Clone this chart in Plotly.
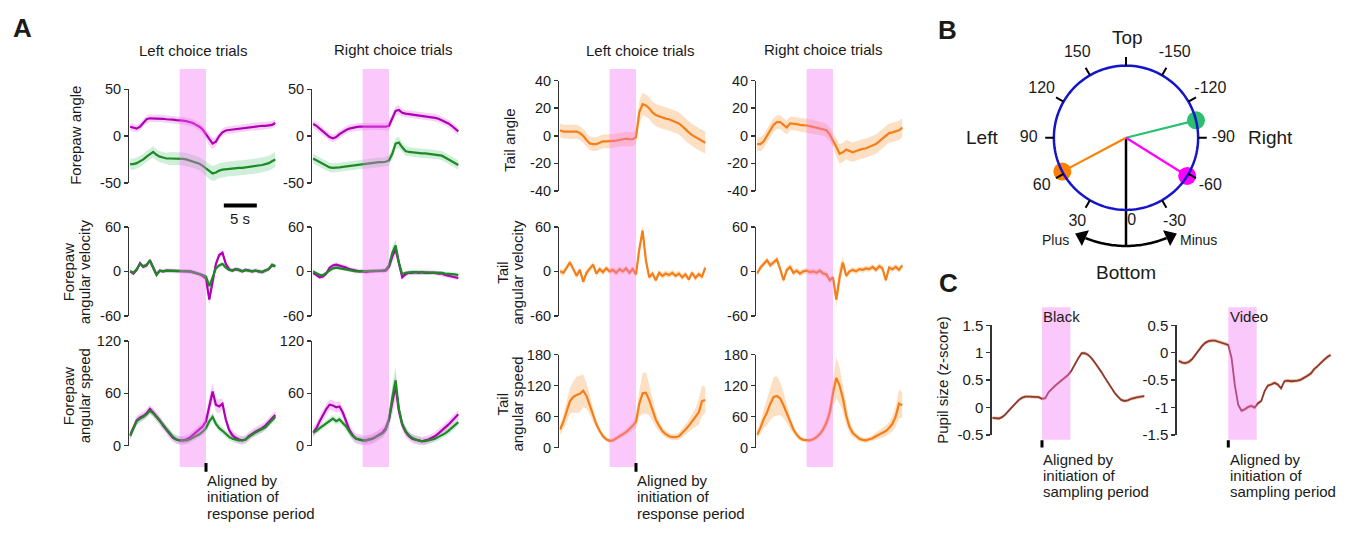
import plotly.graph_objects as go
import numpy as np

W, H = 1348, 533
FONT = "Liberation Sans, Arial, Helvetica, sans-serif"
TXT = "#1a1a1a"
AXC = "#333333"

# ---------------- DATA ----------------
# time grid (s), aligned to initiation of response period
T = [-11.5, -11, -10.5, -10, -9.5, -9, -8.5, -8, -7.5, -7,
     -6.5, -6, -5.5, -5, -4.5, -4, -3.5, -3, -2.5, -2,
     -1.5, -1, -0.5, 0, 0.5, 1, 1.5, 2, 2.5, 3,
     3.5, 4, 4.5, 5, 5.5, 6, 6.5, 7, 7.5, 8,
     8.5, 9, 9.5, 10, 10.5]

COL_TITLES = ["Left choice trials", "Right choice trials", "Left choice trials", "Right choice trials"]
FP_YLABELS = [["Forepaw angle"], ["Forepaw", "angular velocity"], ["Forepaw", "angular speed"]]
TAIL_YLABELS = [["Tail angle"], ["Tail", "angular velocity"], ["Tail", "angular speed"]]
FP_TICKS = [[-50, 0, 50], [-60, 0, 60], [0, 60, 120]]
TAIL_TICKS = [[-40, -20, 0, 20, 40], [-60, 0, 60], [0, 60, 120, 180]]
RESPONSE_PERIOD = [-4, 0]

# Forepaw angle
FP_ANGLE_L_MAG = [10, 9, 8, 10, 14, 18, 19, 19, 19, 19, 18.5, 18, 18, 17.5, 17, 17, 16.5, 16, 15, 14,
                  12, 10, 7, 2, -4, -8, -6, 0, 4, 6, 6.5, 7, 7.5, 8, 8.5, 9, 9.5, 10, 10, 10.5,
                  11, 11, 11.5, 12, 14]
FP_ANGLE_L_MAG_SEM = [4, 4, 4, 4, 4, 4, 4, 4, 4, 4, 4, 4, 4, 4, 4, 4, 4, 4, 4, 4,
                      4, 4, 4, 5, 6, 6, 5, 4, 4, 4, 4, 4, 4, 4, 4, 4, 4, 4, 4, 4,
                      4, 4, 4, 4, 4]
FP_ANGLE_L_GRN = [-30, -30, -29, -27, -25, -22, -19, -17, -20, -22, -23, -24, -24, -24, -24, -24, -24.5, -25, -26, -27,
                  -28, -29.5, -32, -35, -38, -40, -39, -37, -36, -35.5, -35, -35, -34.5, -34, -34, -33.5, -33, -33, -32, -31.5,
                  -31, -30, -29, -27, -25]
FP_ANGLE_L_GRN_SEM = [6, 6, 6, 6, 6, 6, 6, 6, 6, 6, 6, 6, 7, 7, 7, 7, 7, 7, 7, 7,
                      7, 7, 7, 8, 8, 8, 8, 8, 8, 8, 8, 8, 8, 8, 8, 8, 8, 8, 8, 8,
                      8, 8, 8, 8, 8]
FP_ANGLE_R_MAG = [13, 11, 8, 5, 2, -1, -2.5, -1, 2, 4.5, 6.5, 8, 9, 9.5, 10, 10, 10, 10.5, 10.5, 10.5,
                  10.5, 10.5, 10, 11, 19, 27, 28, 25, 24, 23.5, 23, 22.5, 22, 21.5, 21, 21, 20.5, 19.5, 18.5, 17,
                  15.5, 13.5, 11, 8, 5]
FP_ANGLE_R_MAG_SEM = [4, 4, 4, 4, 4, 4, 4, 4, 4, 4, 4, 4, 4, 4, 4, 4, 4, 4, 4, 4,
                      4, 4, 4, 5, 5, 5, 5, 4, 4, 4, 4, 4, 4, 4, 4, 4, 4, 4, 4, 4,
                      4, 4, 4, 4, 4]
FP_ANGLE_R_GRN = [-24, -26, -28, -30, -32, -33.5, -34, -34, -33.5, -33, -32.5, -32, -31.5, -31, -30.5, -30, -30, -29.5, -29, -28.5,
                  -28, -28, -27.5, -26, -19, -8, -7, -12, -16, -17, -17.5, -18, -18, -18.5, -18.5, -19, -19, -19.5, -20, -21,
                  -23, -25, -27, -29, -31]
FP_ANGLE_R_GRN_SEM = [5, 5, 5, 5, 5, 5, 5, 5, 5, 5, 5, 5, 5, 5, 5, 5, 5, 5, 5, 5,
                      5, 5, 5, 6, 6, 6, 6, 5, 5, 5, 5, 5, 5, 5, 5, 5, 5, 5, 5, 5,
                      5, 5, 5, 5, 5]

# Forepaw angular velocity
FP_VEL_L_MAG = [0, -3, 2, 11, 6, 8, 15, 5, -4, 1, 0, 1, 1, 1, 0, 1, 0, 0, 0, -1,
                -2, -4, -6, -10, -38, -15, 10, 22, 25, 10, 3, 1, 3, 2, 0, 2, 1, 0, 1, 0,
                -1, 1, 3, 8, 7]
FP_VEL_L_MAG_SEM = [3, 3, 3, 3, 3, 3, 3, 3, 3, 3, 3, 3, 3, 3, 3, 3, 3, 3, 3, 3,
                    3, 3, 3, 5, 8, 6, 5, 4, 4, 3, 3, 3, 3, 3, 3, 3, 3, 3, 3, 3,
                    3, 3, 3, 3, 3]
FP_VEL_L_GRN = [0, -2, 3, 10, 7, 9, 14, 4, -5, 1, 0, 1, 1, 1, 0, 1, 0, 0, 0, -1,
                -2, -3, -5, -7, -20, -8, 4, 8, 10, 5, 2, 1, 3, 2, 0, 2, 1, 0, 1, 0,
                -1, 1, 3, 9, 7]
FP_VEL_L_GRN_SEM = [2.5, 2.5, 2.5, 2.5, 2.5, 2.5, 2.5, 2.5, 2.5, 2.5, 2.5, 2.5, 2.5, 2.5, 2.5, 2.5, 2.5, 2.5, 2.5, 2.5,
                    2.5, 2.5, 2.5, 3, 5, 4, 3, 3, 2.5, 2.5, 2.5, 2.5, 2.5, 2.5, 2.5, 2.5, 2.5, 2.5, 2.5, 2.5,
                    2.5, 2.5, 2.5, 2.5, 2.5]
FP_VEL_R_MAG = [-2, -5, -8, -7, -3, 5, 8, 9, 8, 6, 5, 3, 2, 0, 0, 0, -1, 0, 0, 0,
                1, 0, 1, 6, 20, 30, 10, -8, -4, -2, -2, -1, -2, -1, -2, -2, -1, -2, -3, -3,
                -5, -6, -7, -8, -9]
FP_VEL_R_MAG_SEM = [3, 3, 3, 3, 3, 3, 3, 3, 3, 3, 3, 3, 3, 3, 3, 3, 3, 3, 3, 3,
                    3, 3, 3, 5, 8, 8, 5, 4, 3, 3, 3, 3, 3, 3, 3, 3, 3, 3, 3, 3,
                    3, 3, 3, 3, 3]
FP_VEL_R_GRN = [0, -3, -5, -5, -2, 2, 4, 5, 4, 3, 3, 2, 1, 0, 0, 0, 0, 1, 0, 1,
                1, 1, 2, 8, 25, 35, 12, -4, -2, -1, -1, -1, -1, -1, -2, -1, -2, -2, -1, -2,
                -3, -3, -4, -4, -5]
FP_VEL_R_GRN_SEM = [2.5, 2.5, 2.5, 2.5, 2.5, 2.5, 2.5, 2.5, 2.5, 2.5, 2.5, 2.5, 2.5, 2.5, 2.5, 2.5, 2.5, 2.5, 2.5, 2.5,
                    2.5, 2.5, 2.5, 4, 8, 8, 4, 3, 2.5, 2.5, 2.5, 2.5, 2.5, 2.5, 2.5, 2.5, 2.5, 2.5, 2.5, 2.5,
                    2.5, 2.5, 2.5, 2.5, 2.5]

# Forepaw angular speed
FP_SPD_L_MAG = [12, 20, 29, 32, 34, 37, 42, 38, 34, 29, 23, 18, 13, 9, 7, 6, 6, 7, 9, 12,
                15, 18, 22, 28, 45, 62, 47, 45, 48, 30, 18, 12, 9, 7, 6, 7, 11, 14, 16, 18,
                20, 23, 27, 31, 35]
FP_SPD_L_MAG_SEM = [5, 5, 5, 5, 5, 5, 5, 5, 5, 5, 5, 5, 5, 5, 5, 5, 5, 5, 5, 5,
                    5, 5, 5, 8, 12, 10, 8, 8, 6, 5, 5, 5, 5, 5, 5, 5, 5, 5, 5, 5,
                    5, 5, 5, 5, 5]
FP_SPD_L_GRN = [11, 19, 28, 31, 33, 36, 40, 37, 33, 29, 24, 19, 14, 10, 7, 6, 6, 6, 7, 9,
                11, 13, 16, 20, 28, 33, 25, 20, 17, 13, 10, 8, 7, 6, 6, 7, 10, 13, 15, 17,
                19, 21, 25, 29, 33]
FP_SPD_L_GRN_SEM = [4, 4, 4, 4, 4, 4, 4, 4, 4, 4, 4, 4, 4, 4, 4, 4, 4, 4, 4, 4,
                    4, 4, 4, 5, 6, 5, 4, 4, 4, 4, 4, 4, 4, 4, 4, 4, 4, 4, 4, 4,
                    4, 4, 4, 4, 4]
FP_SPD_R_MAG = [15, 20, 28, 35, 42, 47, 46, 44, 45, 38, 28, 18, 12, 8, 7, 6, 6, 7, 8, 10,
                13, 15, 20, 30, 50, 68, 40, 24, 16, 11, 8, 7, 6, 5, 6, 7, 9, 11, 14, 17,
                20, 24, 28, 32, 36]
FP_SPD_R_MAG_SEM = [6, 6, 6, 6, 6, 6, 6, 6, 6, 6, 6, 6, 6, 6, 6, 6, 6, 6, 6, 6,
                    6, 6, 6, 8, 15, 15, 8, 6, 6, 5, 5, 5, 5, 5, 5, 5, 5, 5, 5, 5,
                    5, 5, 5, 5, 5]
FP_SPD_R_GRN = [15, 17, 20, 23, 26, 29, 31, 28, 30, 26, 22, 16, 11, 8, 7, 6, 6, 7, 8, 10,
                12, 14, 18, 30, 55, 75, 42, 25, 17, 12, 9, 7, 6, 5, 5, 6, 7, 8, 10, 12,
                14, 17, 20, 23, 27]
FP_SPD_R_GRN_SEM = [4, 4, 4, 4, 4, 4, 4, 4, 4, 4, 4, 4, 4, 4, 4, 4, 4, 4, 4, 4,
                    4, 4, 4, 8, 15, 15, 8, 5, 5, 4, 4, 4, 4, 4, 4, 4, 4, 4, 4, 4,
                    4, 4, 4, 4, 4]

# Tail
TAIL_ANGLE_L = [4, 3, 3, 3, 2.5, 3, 2, 0, -3, -5.5, -6, -6, -5, -4, -4, -4, -4, -3.5, -3, -2.5,
                -2, -2.5, -2.5, -1, 17, 23, 22, 20, 17, 15, 14, 13, 12.5, 12, 11, 10, 9, 7, 4.5, 2.5,
                0.5, -1, -2.5, -4, -5]
TAIL_ANGLE_L_SEM = [5, 5, 5, 5, 5, 5, 5, 5, 5, 5, 5, 5, 5, 5, 5, 5, 5, 5, 5, 5,
                    5, 5, 5, 5, 8, 8, 8, 8, 8, 8, 8, 8, 8, 8, 8, 8, 8, 8, 8, 8,
                    8, 8, 8, 8, 8]
TAIL_ANGLE_R = [-6, -6, -4, 0, 4, 8, 10, 10, 8, 6, 9, 9, 8.5, 8, 8, 7.5, 7, 6.5, 6, 5.5,
                5, 4, 1, -3, -8, -13, -12, -10, -11, -12, -11, -10, -9.5, -9, -8, -7, -6, -4, -2, 0,
                2, 2.5, 3, 4, 6]
TAIL_ANGLE_R_SEM = [5, 5, 5, 5, 5, 5, 5, 5, 5, 5, 5, 5, 5, 5, 5, 5, 5, 5, 5, 5,
                    5, 5, 5, 5, 7, 7, 7, 7, 7, 7, 7, 7, 7, 7, 7, 7, 7, 7, 7, 7,
                    7, 7, 7, 7, 7]
TAIL_VEL_L = [0, -2, 5, 12, 3, -6, 2, -14, -2, 4, 9, -3, 3, -1, 4, 0, 2, -2, 3, 0,
              4, -2, 3, -4, 30, 55, 15, -8, -3, -12, -2, -6, -3, -5, -2, -6, -3, -8, -4, -11,
              -2, -9, -4, -7, 5]
TAIL_VEL_L_SEM = [4, 4, 4, 4, 4, 4, 4, 4, 4, 4, 4, 4, 4, 4, 4, 4, 4, 4, 4, 4,
                  4, 4, 4, 4, 8, 10, 6, 4, 4, 4, 4, 4, 4, 4, 4, 4, 4, 4, 4, 4,
                  4, 4, 4, 4, 4]
TAIL_VEL_R = [-3, 5, 10, 15, 8, 12, 16, 3, -12, 2, 6, -2, 1, -3, 0, 1, -1, 0, -2, 1,
              -3, -4, -12, -8, -38, -8, 12, -6, 0, 2, 0, 3, 2, 4, 3, 6, 2, 7, 4, -12,
              5, 3, 6, 2, 8]
TAIL_VEL_R_SEM = [4, 4, 4, 4, 4, 4, 4, 4, 4, 4, 4, 4, 4, 4, 4, 4, 4, 4, 4, 4,
                  4, 4, 4, 4, 10, 15, 8, 4, 4, 4, 4, 4, 4, 4, 4, 4, 4, 4, 4, 4,
                  4, 4, 4, 4, 4]
TAIL_SPD_L = [35, 50, 70, 90, 98, 102, 104, 110, 100, 82, 62, 45, 32, 22, 16, 13, 14, 18, 23, 26,
              30, 36, 42, 50, 85, 105, 106, 92, 72, 54, 42, 32, 26, 22, 20, 20, 22, 28, 35, 42,
              50, 58, 68, 90, 92]
TAIL_SPD_L_SEM = [10, 15, 20, 25, 30, 35, 35, 32, 25, 18, 12, 8, 6, 5, 4, 4, 4, 5, 5, 6,
                  6, 7, 8, 12, 25, 40, 40, 30, 20, 14, 10, 8, 7, 6, 6, 6, 7, 8, 10, 12,
                  14, 18, 25, 30, 25]
TAIL_SPD_R = [25, 38, 55, 68, 85, 98, 100, 95, 82, 65, 48, 35, 25, 18, 15, 14, 14, 16, 20, 26,
              35, 48, 68, 105, 135, 120, 95, 62, 40, 28, 22, 17, 15, 14, 16, 18, 22, 25, 28, 32,
              38, 46, 60, 85, 82]
TAIL_SPD_R_SEM = [8, 12, 18, 25, 32, 38, 38, 32, 25, 18, 12, 8, 6, 5, 4, 4, 4, 4, 5, 6,
                  8, 10, 15, 25, 40, 35, 25, 18, 12, 8, 6, 5, 5, 5, 5, 6, 7, 8, 9, 10,
                  12, 15, 20, 28, 25]

# Panel C: pupil (aligned by initiation of sampling period)
TC = [-7.5, -7, -6.5, -6, -5.5, -5, -4.5, -4, -3.5, -3, -2.5, -2, -1.5, -1, -0.5, 0,
      0.5, 1, 1.5, 2, 2.5, 3, 3.5, 4, 4.5, 5, 5.5, 6, 6.5, 7, 7.5, 8, 8.5, 9, 9.5, 10,
      10.5, 11, 11.5, 12, 12.5, 13, 13.5, 14, 14.5, 15, 15.5]
PUPIL_TITLES = ["Black", "Video"]
PUPIL_BLACK = [-0.19, -0.2, -0.2, -0.17, -0.12, -0.05, 0.02, 0.08, 0.14, 0.18,
               0.2, 0.2, 0.2, 0.19, 0.19, 0.16, 0.17, 0.28, 0.35, 0.4,
               0.45, 0.5, 0.55, 0.6, 0.68, 0.8, 0.9, 0.99, 0.99, 0.96,
               0.9, 0.82, 0.74, 0.65, 0.55, 0.45, 0.36, 0.27, 0.2, 0.14,
               0.12, 0.13, 0.16, 0.18, 0.19, 0.2, 0.21]
PUPIL_BLACK_SEM = [0.03, 0.03, 0.03, 0.03, 0.03, 0.03, 0.03, 0.03, 0.03, 0.03,
                   0.03, 0.03, 0.03, 0.03, 0.03, 0.03, 0.03, 0.03, 0.03, 0.03,
                   0.03, 0.03, 0.03, 0.03, 0.03, 0.03, 0.03, 0.03, 0.03, 0.03,
                   0.03, 0.03, 0.03, 0.03, 0.03, 0.03, 0.03, 0.03, 0.03, 0.03,
                   0.03, 0.03, 0.03, 0.03, 0.03, 0.03, 0.03]
PUPIL_VIDEO = [-0.15, -0.18, -0.19, -0.17, -0.12, -0.04, 0.05, 0.12, 0.18, 0.21,
               0.22, 0.22, 0.2, 0.18, 0.16, 0.14, -0.1, -0.6, -0.95, -1.06,
               -1.03, -0.99, -0.97, -1.0, -0.92, -0.88, -0.7, -0.6, -0.58, -0.55,
               -0.58, -0.65, -0.52, -0.51, -0.52, -0.52, -0.51, -0.49, -0.46, -0.42,
               -0.38, -0.3, -0.25, -0.18, -0.13, -0.08, -0.04]
PUPIL_VIDEO_SEM = [0.035, 0.035, 0.035, 0.035, 0.035, 0.035, 0.035, 0.035, 0.035, 0.035,
                   0.035, 0.035, 0.035, 0.035, 0.035, 0.035, 0.035, 0.035, 0.035, 0.035,
                   0.035, 0.035, 0.035, 0.035, 0.035, 0.035, 0.035, 0.035, 0.035, 0.035,
                   0.035, 0.035, 0.035, 0.035, 0.035, 0.035, 0.035, 0.035, 0.035, 0.035,
                   0.035, 0.035, 0.035, 0.035, 0.035, 0.035, 0.035]
PUPIL_TICKS = [[-0.5, 0, 0.5, 1, 1.5], [-1.5, -1, -0.5, 0, 0.5]]
SAMPLING_PERIOD = [0, 4.3]

# Panel B: angle convention
B_TICK_ANGLES = [0, 30, 60, 90, 120, 150, 180, -150, -120, -90, -60, -30]
B_TICK_LABELS = ["0", "30", "60", "90", "120", "150", "", "-150", "-120", "-90", "-60", "-30"]
B_PART_ANGLES = [62, -104, -58]  # tail (orange), left paw (green), right paw (magenta)

for arr in [FP_ANGLE_L_MAG, FP_ANGLE_L_MAG_SEM, FP_ANGLE_L_GRN, FP_ANGLE_L_GRN_SEM, FP_ANGLE_R_MAG,
            FP_ANGLE_R_MAG_SEM, FP_ANGLE_R_GRN, FP_ANGLE_R_GRN_SEM, FP_VEL_L_MAG, FP_VEL_L_MAG_SEM,
            FP_VEL_L_GRN, FP_VEL_L_GRN_SEM, FP_VEL_R_MAG, FP_VEL_R_MAG_SEM, FP_VEL_R_GRN, FP_VEL_R_GRN_SEM,
            FP_SPD_L_MAG, FP_SPD_L_MAG_SEM, FP_SPD_L_GRN, FP_SPD_L_GRN_SEM, FP_SPD_R_MAG, FP_SPD_R_MAG_SEM,
            FP_SPD_R_GRN, FP_SPD_R_GRN_SEM, TAIL_ANGLE_L, TAIL_ANGLE_L_SEM, TAIL_ANGLE_R, TAIL_ANGLE_R_SEM,
            TAIL_VEL_L, TAIL_VEL_L_SEM, TAIL_VEL_R, TAIL_VEL_R_SEM, TAIL_SPD_L, TAIL_SPD_L_SEM,
            TAIL_SPD_R, TAIL_SPD_R_SEM]:
    assert len(arr) == len(T), len(arr)
for arr in [PUPIL_BLACK, PUPIL_BLACK_SEM, PUPIL_VIDEO, PUPIL_VIDEO_SEM]:
    assert len(arr) == len(TC), len(arr)

# ---------------- STYLE ----------------
MAG = "#b000b4"
MAG_BAND = "rgba(228,120,228,0.35)"
GRN = "#1e8a24"
GRN_BAND = "rgba(120,210,150,0.35)"
ORG = "#f57f17"
ORG_BAND = "rgba(250,170,100,0.38)"
PUP = "#8a3a30"
PUP_BAND = "rgba(240,150,100,0.55)"
PINK = "rgb(245,110,245)"
PINK_OP = 0.38

fig = go.Figure()


def fx(px):
    return px / W


def fy(py):
    return 1 - py / H


def ids(n):
    return ("x" if n == 1 else f"x{n}", "y" if n == 1 else f"y{n}")


def fmt(v):
    return f"{v:g}"


axes_layout = {}


def add_axes(n, xpx, ypx, xrange, yrange, ticks, tsize):
    xid, yid = ids(n)
    xkey = "xaxis" if n == 1 else f"xaxis{n}"
    ykey = "yaxis" if n == 1 else f"yaxis{n}"
    axes_layout[xkey] = dict(domain=[fx(xpx[0]), fx(xpx[1])], range=xrange, visible=False,
                             anchor=yid, fixedrange=True)
    axes_layout[ykey] = dict(domain=[fy(ypx[1]), fy(ypx[0])], range=yrange, anchor=xid,
                             showline=True, linecolor=AXC, linewidth=1.5, ticks="outside",
                             ticklen=4, tickwidth=1.5, tickcolor=AXC, tickvals=ticks,
                             ticktext=[fmt(v) for v in ticks],
                             tickfont=dict(size=tsize, color=TXT, family=FONT),
                             showgrid=False, zeroline=False, fixedrange=True)


def add_band(n, t, m, s, color):
    xid, yid = ids(n)
    up = [a + b for a, b in zip(m, s)]
    lo = [a - b for a, b in zip(m, s)]
    fig.add_trace(go.Scatter(x=list(t) + list(t)[::-1], y=up + lo[::-1], fill="toself",
                             fillcolor=color, mode="lines", line=dict(width=0),
                             hoverinfo="skip", showlegend=False, xaxis=xid, yaxis=yid))


def add_line(n, t, m, color, width=2.2):
    xid, yid = ids(n)
    fig.add_trace(go.Scatter(x=t, y=m, mode="lines", line=dict(color=color, width=width),
                             showlegend=False, xaxis=xid, yaxis=yid))


# ---------------- PANEL A ----------------
PPS = 6.6
XR_A = [-11.6, 10.6]
COL_ALIGN = [206, 389, 636, 833]
FP_ROWS = [(83, 179.5), (225, 317), (343, 451)]
TAIL_ROWS = [(74, 188), (225, 317), (357, 453)]
FP_YR = [[-50, 50], [-60, 60], [0, 120]]
TAIL_YR = [[-40, 40], [-60, 60], [0, 180]]

FP_DATA = {
    (0, 0): (FP_ANGLE_L_MAG, FP_ANGLE_L_MAG_SEM, FP_ANGLE_L_GRN, FP_ANGLE_L_GRN_SEM),
    (0, 1): (FP_ANGLE_R_MAG, FP_ANGLE_R_MAG_SEM, FP_ANGLE_R_GRN, FP_ANGLE_R_GRN_SEM),
    (1, 0): (FP_VEL_L_MAG, FP_VEL_L_MAG_SEM, FP_VEL_L_GRN, FP_VEL_L_GRN_SEM),
    (1, 1): (FP_VEL_R_MAG, FP_VEL_R_MAG_SEM, FP_VEL_R_GRN, FP_VEL_R_GRN_SEM),
    (2, 0): (FP_SPD_L_MAG, FP_SPD_L_MAG_SEM, FP_SPD_L_GRN, FP_SPD_L_GRN_SEM),
    (2, 1): (FP_SPD_R_MAG, FP_SPD_R_MAG_SEM, FP_SPD_R_GRN, FP_SPD_R_GRN_SEM),
}
TAIL_DATA = {
    (0, 2): (TAIL_ANGLE_L, TAIL_ANGLE_L_SEM), (0, 3): (TAIL_ANGLE_R, TAIL_ANGLE_R_SEM),
    (1, 2): (TAIL_VEL_L, TAIL_VEL_L_SEM), (1, 3): (TAIL_VEL_R, TAIL_VEL_R_SEM),
    (2, 2): (TAIL_SPD_L, TAIL_SPD_L_SEM), (2, 3): (TAIL_SPD_R, TAIL_SPD_R_SEM),
}

for r in range(3):
    for c in range(4):
        n = 1 + r * 4 + c
        al = COL_ALIGN[c]
        xpx = (al + XR_A[0] * PPS, al + XR_A[1] * PPS)
        if c < 2:
            add_axes(n, xpx, FP_ROWS[r], XR_A, FP_YR[r], FP_TICKS[r], 14.5)
            mag, mag_s, grn, grn_s = FP_DATA[(r, c)]
            add_band(n, T, grn, grn_s, GRN_BAND)
            add_band(n, T, mag, mag_s, MAG_BAND)
            add_line(n, T, mag, MAG)
            add_line(n, T, grn, GRN)
        else:
            add_axes(n, xpx, TAIL_ROWS[r], XR_A, TAIL_YR[r], TAIL_TICKS[r], 14.5)
            m, s = TAIL_DATA[(r, c)]
            add_band(n, T, m, s, ORG_BAND)
            add_line(n, T, m, ORG)

# ---------------- PANEL C ----------------
C_ALIGN = [1042, 1228.3]
C_XR = [[-7.6, 15.6], [-7.8, 15.6]]
C_YPX = (326.7, 440)
C_YR = [[-0.5, 1.5], [-1.5, 0.5]]
C_DATA = [(PUPIL_BLACK, PUPIL_BLACK_SEM), (PUPIL_VIDEO, PUPIL_VIDEO_SEM)]
for i in range(2):
    n = 13 + i
    al = C_ALIGN[i]
    xr = C_XR[i]
    add_axes(n, (al + xr[0] * PPS, al + xr[1] * PPS), C_YPX, xr, C_YR[i], PUPIL_TICKS[i], 15)
    m, s = C_DATA[i]
    add_band(n, TC, m, s, PUP_BAND)
    add_line(n, TC, m, PUP, width=1.8)

# ---------------- PANEL B (polar) ----------------
RMAX = 1.6
CX, CY, RPX = 1126, 133, 74.5
half = RPX * RMAX
polar = dict(
    domain=dict(x=[fx(CX - half), fx(CX + half)], y=[fy(CY + half), fy(CY - half)]),
    radialaxis=dict(visible=False, range=[0, RMAX]),
    angularaxis=dict(visible=False, rotation=-90, direction="clockwise"),
    bgcolor="rgba(0,0,0,0)",
)
PART_COLORS = ["#ff8000", "#2cbf70", "#ff00ff"]

fig.add_trace(go.Scatterpolar(r=[0, 1.5], theta=[0, 0], mode="lines",
                              line=dict(color="black", width=2.5), showlegend=False,
                              cliponaxis=False, hoverinfo="skip"))
for ang, col in zip(B_PART_ANGLES, PART_COLORS):
    fig.add_trace(go.Scatterpolar(r=[0, 1], theta=[0, ang], mode="lines",
                                  line=dict(color=col, width=2.2), showlegend=False,
                                  cliponaxis=False, hoverinfo="skip"))
fig.add_trace(go.Scatterpolar(r=[1, 1, 1], theta=B_PART_ANGLES, mode="markers",
                              marker=dict(color=PART_COLORS, size=18, line=dict(width=0)),
                              showlegend=False, cliponaxis=False, hoverinfo="skip"))
circ_theta = np.linspace(0, 360, 181)
fig.add_trace(go.Scatterpolar(r=np.ones_like(circ_theta), theta=circ_theta, mode="lines",
                              line=dict(color="#1414c8", width=2.5), showlegend=False,
                              cliponaxis=False, hoverinfo="skip"))
tick_r, tick_t = [], []
for a in B_TICK_ANGLES:
    if a == 0:
        continue
    tick_r += [1.0, 1.12, None]
    tick_t += [a, a, None]
fig.add_trace(go.Scatterpolar(r=tick_r, theta=tick_t, mode="lines",
                              line=dict(color="black", width=2), showlegend=False,
                              cliponaxis=False, hoverinfo="skip", connectgaps=False))
lab_r = [1.16 if a == 0 else 1.35 for a in B_TICK_ANGLES]
lab_t = [-4 if a == 0 else a for a in B_TICK_ANGLES]
fig.add_trace(go.Scatterpolar(r=lab_r, theta=lab_t, mode="text", text=B_TICK_LABELS,
                              textfont=dict(size=16, color=TXT, family=FONT),
                              showlegend=False, cliponaxis=False, hoverinfo="skip"))
arc_t = np.linspace(-22, 22, 45)
fig.add_trace(go.Scatterpolar(r=np.full_like(arc_t, 1.5), theta=arc_t, mode="lines",
                              line=dict(color="black", width=2.5), showlegend=False,
                              cliponaxis=False, hoverinfo="skip"))
fig.add_trace(go.Scatterpolar(r=[1.5, 1.5], theta=[24, -24], mode="markers",
                              marker=dict(symbol="triangle-up", size=15, color="black",
                                          angle=[-66, 66]),
                              showlegend=False, cliponaxis=False, hoverinfo="skip"))

# ---------------- SHAPES ----------------
shapes = []
for c in range(4):
    xid, _ = ids(1 + c)
    shapes.append(dict(type="rect", xref=xid, yref="paper", x0=RESPONSE_PERIOD[0],
                       x1=RESPONSE_PERIOD[1], y0=fy(473), y1=fy(62), fillcolor=PINK,
                       opacity=PINK_OP, line=dict(width=0), layer="above"))
for c in (0, 2):
    xid, _ = ids(1 + c)
    shapes.append(dict(type="line", xref=xid, yref="paper", x0=0, x1=0, y0=fy(478), y1=fy(469),
                       line=dict(color="black", width=3)))
shapes.append(dict(type="line", xref="x", yref="paper", x0=2.7, x1=7.7, y0=fy(203), y1=fy(203),
                   line=dict(color="black", width=4)))
for i in range(2):
    xid, _ = ids(13 + i)
    shapes.append(dict(type="rect", xref=xid, yref="paper", x0=SAMPLING_PERIOD[0],
                       x1=SAMPLING_PERIOD[1], y0=fy(445), y1=fy(308), fillcolor=PINK,
                       opacity=PINK_OP, line=dict(width=0), layer="above"))
    shapes.append(dict(type="line", xref=xid, yref="paper", x0=0, x1=0, y0=fy(453), y1=fy(445.5),
                       line=dict(color="black", width=3)))

# ---------------- ANNOTATIONS ----------------
ann = []


def txt(text, x, y, size=15, xanchor="center", yanchor="middle", angle=0, bold=False,
        xref="paper", align="center"):
    t = f"<b>{text}</b>" if bold else text
    ann.append(dict(text=t, x=(fx(x) if xref == "paper" else x), y=fy(y), xref=xref,
                    yref="paper", showarrow=False, xanchor=xanchor, yanchor=yanchor,
                    textangle=angle, align=align,
                    font=dict(size=size, color=TXT, family=FONT)))


txt("A", 22, 20, size=26, bold=True)
txt("B", 947, 22, size=26, bold=True)
txt("C", 948, 283, size=26, bold=True)

for c, (cx, cy) in enumerate([(193, 43), (393, 42), (640, 43), (823, 42)]):
    txt(COL_TITLES[c], cx, cy, size=15)


def ytitle(lines, xc, yc, gap=16):
    n = len(lines)
    for k, line in enumerate(lines):
        txt(line, xc + (k - (n - 1) / 2) * gap, yc, size=15, angle=-90)


for r, cy in enumerate([131, 272, 400]):
    ytitle(FP_YLABELS[r], 76, cy)
for r, cy in enumerate([136, 272, 408]):
    ytitle(TAIL_YLABELS[r], 510, cy, gap=15)
txt("Pupil size (z-score)", 943, 383, size=15, angle=-90)

txt("5 s", 5.2, 216, size=15, xref="x")

resp_lines = ["Aligned by", "initiation of", "response period"]
for c in (0, 2):
    xid, _ = ids(1 + c)
    for k, line in enumerate(resp_lines):
        txt(line, -0.1, 487 + 17 * k, size=15, xanchor="left", xref=xid)
samp_lines = ["Aligned by", "initiation of", "sampling period"]
for i in range(2):
    xid, _ = ids(13 + i)
    for k, line in enumerate(samp_lines):
        txt(line, -0.1, 465 + 16.7 * k, size=15, xanchor="left", xref=xid)
    txt(PUPIL_TITLES[i], -0.1, 318, size=15, xanchor="left", xref=xid)

txt("Top", 1127, 29, size=19)
txt("Bottom", 1126, 272, size=19)
txt("Left", 982, 133, size=19)
txt("Right", 1270, 133, size=19)
txt("Plus", 1055, 239, size=14)
txt("Minus", 1198, 239, size=14)

fig.update_layout(
    width=W, height=H, margin=dict(l=0, r=0, t=0, b=0),
    paper_bgcolor="white", plot_bgcolor="rgba(0,0,0,0)",
    showlegend=False, polar=polar, shapes=shapes, annotations=ann,
    font=dict(family=FONT, color=TXT),
    **axes_layout,
)

fig.write_html("out.html", include_plotlyjs=True, full_html=True,
               config={"displayModeBar": False, "staticPlot": True},
               post_script="document.body.style.margin='0';document.body.style.overflow='hidden';")
